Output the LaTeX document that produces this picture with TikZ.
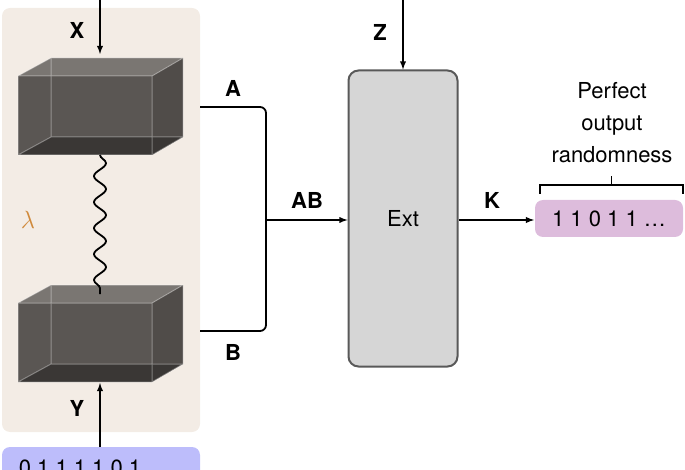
\documentclass[tikz,border=0pt]{standalone}
\usepackage{fontspec}
\setmainfont{TeX Gyre Heros}
\usetikzlibrary{decorations.pathmorphing}
\definecolor{panel}{HTML}{F3ECE5}
\definecolor{bitblue}{HTML}{BDBDFB}
\definecolor{bitpink}{HTML}{DDBCDC}
\definecolor{extgray}{HTML}{D6D6D6}
\definecolor{lamcol}{HTML}{D08A3C}
\newcommand{\qbox}[3]{% name, x, y of front top-left corner
  \fill[fill={rgb,255:red,90;green,86;blue,83}] (#2,#3) rectangle ++(134,79);
  \fill[fill={rgb,255:red,122;green,118;blue,114}] (#2,#3) -- ++(33,-18) -- ++(132,0) -- ++(-31,18) -- cycle;
  \fill[fill={rgb,255:red,80;green,76;blue,73}] (#2+134,#3) -- ++(31,-18) -- ++(0,79) -- ++(-31,18) -- cycle;
  \fill[fill={rgb,255:red,58;green,55;blue,53}] (#2,#3+79) -- ++(33,-18) -- ++(132,0) -- ++(-31,18) -- cycle;
  \draw[white, opacity=.35, line width=1pt] (#2,#3) rectangle ++(134,79)
    (#2+33,#3-18) rectangle ++(132,79)
    (#2,#3) -- ++(33,-18) (#2+134,#3) -- ++(31,-18)
    (#2,#3+79) -- ++(33,-18) (#2+134,#3+79) -- ++(31,-18);
  \coordinate (#1-top) at (#2+82,#3-9);
  \coordinate (#1-bot) at (#2+82,#3+79);
  \coordinate (#1-east) at (#2+182,#3+31);
}
\begin{document}
\begin{tikzpicture}[x=1pt,y=-1pt, line width=1.8pt,
  txt/.style={font=\fontsize{22}{32}\selectfont},
  lbl/.style={font=\fontsize{22}{26}\selectfont\bfseries},
  arr/.style={-latex}]

		\useasboundingbox (0,0) rectangle (685,470);
		\fill[panel, rounded corners=8pt] (2,8) rectangle (200,432);
		\fill[bitblue, rounded corners=8pt] (2,447) rectangle (200,480);
		\node[txt] (bits) at (80,468) {0 1 1 1 1 0 1};

		%%Boxes sharing lambda
		\qbox{boxA}{18}{76}
		\qbox{boxB}{18}{303}
		\draw[decorate, decoration={snake, amplitude=6pt, segment length=26pt}] (boxA-bot) -- (boxB-top);
		\node[text=lamcol, font=\fontsize{28}{30}\selectfont] (lam) at (28,220) {$\lambda$};

		\coordinate (xin) at (100,0);
		\coordinate (yin) at (100,447);
		\draw[arr] (xin) -- (100,54);
		\draw[arr] (yin) -- (100,383);
		\node[lbl] (x) at (77,30) {X};
		\node[lbl] (y) at (77,408) {Y};

		%%Outputs joined
		\coordinate (a) at (200,107);
		\coordinate (b) at (200,331);
		\coordinate (j) at (266,220);
		\draw[rounded corners=6pt] (a) -- (266,107) -- (266,331) -- (b);
		\node[lbl] (alab) at (233,88) {A};
		\node[lbl] (blab) at (233,352) {B};

		\node[draw=gray!70!black, fill=extgray, rounded corners=10pt, line width=2pt,
		  minimum width=109pt, minimum height=296pt, txt] (ext) at (403,218.5) {Ext};
		\draw[arr] (j) -- (ext.west |- j);
		\node[lbl] (ab) at (307,200) {AB};
		\coordinate (zin) at (403,0);
		\draw[arr] (zin) -- (ext.north);
		\node[lbl] (z) at (380,32) {Z};

		\node[fill=bitpink, rounded corners=8pt, minimum width=148pt, minimum height=37pt,
		  txt] (out) at (609,218.5) {1 1 0 1 1 \dots};
		\draw[arr] (ext.east |- j) -- (out.west |- j);
		\node[lbl] (k) at (492,200) {K};
		\draw[line width=1.2pt] (540,194) -- (540,185) -- (683,185) -- (683,194) (611.5,185) -- (611.5,176);
		\node[txt, align=center, inner sep=0pt] (perf) at (612,123) {Perfect\\output\\randomness};
	\end{tikzpicture}
\end{document}
